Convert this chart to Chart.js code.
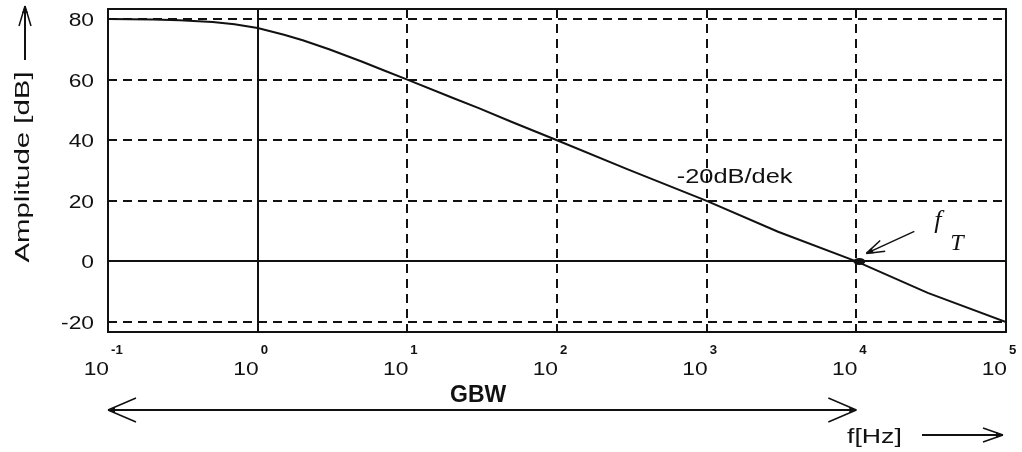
<!DOCTYPE html>
<html>
<head>
<meta charset="utf-8">
<script src="https://cdn.jsdelivr.net/npm/chart.js@4.4.1/dist/chart.umd.min.js"></script>
<style>
  html, body { margin: 0; padding: 0; background: #fff; }
  #wrap { width: 1022px; height: 452px; }
</style>
</head>
<body>
<div id="wrap"><canvas id="bode"></canvas></div>
<script>
// frequency [Hz] and amplitude [dB]
const freqs = [0.1, 0.2, 0.3, 0.5, 0.7, 1, 1.5, 2, 3, 5, 7, 10, 20, 30, 50, 100, 300, 1000, 3000, 10000, 30000, 100000];
const amps  = [80, 79.8, 79.6, 79.0, 78.3, 77, 74.8, 73, 70, 65.9, 63, 60, 54, 50.6, 46, 40, 30.3, 20, 9.8, 0, -10.4, -20];

// axis ticks
const xTicks = [0.1, 1, 10, 100, 1000, 10000, 100000];
const xExponents = ['-1', '0', '1', '2', '3', '4', '5'];
const yTicks = [-20, 0, 20, 40, 60, 80];

// transit frequency and GBW span
const fT = 10000;
const gbwSpan = [0.1, 10000];

const SANS = "'Liberation Sans', Arial, sans-serif";
const INK = '#111';

// the original lettering is a wide bitmap font, so stretch it a bit
function wideText(ctx, txt, x, y, font, align, sx) {
    ctx.save();
    ctx.translate(x, y);
    ctx.scale(sx, 1);
    ctx.font = font;
    ctx.textAlign = align;
    ctx.textBaseline = 'alphabetic';
    ctx.fillStyle = INK;
    ctx.fillText(txt, 0, 0);
    ctx.restore();
}

function arrowHead(ctx, x1, y1, x2, y2, len, spread) {
    const a = Math.atan2(y2 - y1, x2 - x1);
    ctx.save();
    ctx.lineWidth = 1.5;
    ctx.beginPath();
    for (const s of [-1, 1]) {
        ctx.moveTo(x2, y2);
        ctx.lineTo(x2 - len * Math.cos(a) + s * spread * Math.sin(a),
                   y2 - len * Math.sin(a) - s * spread * Math.cos(a));
    }
    ctx.stroke();
    // small filled tip
    ctx.beginPath();
    ctx.moveTo(x2, y2);
    ctx.lineTo(x2 - 7 * Math.cos(a) + 3 * Math.sin(a), y2 - 7 * Math.sin(a) - 3 * Math.cos(a));
    ctx.lineTo(x2 - 7 * Math.cos(a) - 3 * Math.sin(a), y2 - 7 * Math.sin(a) + 3 * Math.cos(a));
    ctx.closePath();
    ctx.fill();
    ctx.restore();
}

function arrow(ctx, x1, y1, x2, y2, len, spread) {
    ctx.beginPath();
    ctx.moveTo(x1, y1);
    ctx.lineTo(x2, y2);
    ctx.stroke();
    arrowHead(ctx, x1, y1, x2, y2, len, spread);
}

const bodeDecor = {
    id: 'bodeDecor',
    beforeDatasetsDraw(chart) {
        const { ctx, chartArea: a, scales: { x, y } } = chart;
        ctx.save();
        ctx.strokeStyle = INK;
        ctx.lineWidth = 2;
        // solid 0 dB line and solid line at 10^0
        ctx.beginPath();
        ctx.moveTo(a.left, Math.round(y.getPixelForValue(0)));
        ctx.lineTo(a.right, Math.round(y.getPixelForValue(0)));
        ctx.moveTo(Math.round(x.getPixelForValue(1)), a.top);
        ctx.lineTo(Math.round(x.getPixelForValue(1)), a.bottom);
        ctx.stroke();
        ctx.restore();
    },
    afterDatasetsDraw(chart) {
        const { ctx, chartArea: a, scales: { x, y } } = chart;
        ctx.save();
        ctx.strokeStyle = INK;
        ctx.fillStyle = INK;
        ctx.lineWidth = 2;

        // frame
        ctx.strokeRect(a.left, a.top, a.right - a.left, a.bottom - a.top);

        // y tick labels
        yTicks.forEach(v => {
            wideText(ctx, String(v), a.left - 14, y.getPixelForValue(v) + 7, '19px ' + SANS, 'right', 1.2);
        });

        // x tick labels: 10 with exponent
        xTicks.forEach((v, i) => {
            const px = x.getPixelForValue(v);
            wideText(ctx, '10', px + 1, a.bottom + 43, '19px ' + SANS, 'right', 1.2);
            wideText(ctx, xExponents[i], px + 3, a.bottom + 22, 'bold 12px ' + SANS, 'left', 1.1);
        });

        // y axis title with arrow
        ctx.save();
        ctx.translate(29, 167);
        ctx.rotate(-Math.PI / 2);
        wideText(ctx, 'Amplitude [dB]', 0, 0, '21px ' + SANS, 'center', 1.4);
        ctx.restore();
        arrow(ctx, 25, 60, 25, 6, 20, 6);

        // slope label
        wideText(ctx, '-20dB/dek', x.getPixelForValue(1000) - 30, y.getPixelForValue(20) - 18, '20px ' + SANS, 'left', 1.27);

        // transit frequency marker
        const tx = x.getPixelForValue(fT), ty = y.getPixelForValue(0);
        ctx.beginPath();
        ctx.ellipse(tx + 3, ty, 6, 3.5, 0, 0, Math.PI * 2);
        ctx.fill();
        ctx.lineWidth = 1.5;
        arrow(ctx, tx + 58, ty - 30, tx + 10, ty - 8, 18, 6);
        ctx.font = "italic 26px 'Liberation Serif', 'Times New Roman', serif";
        ctx.textAlign = 'left';
        ctx.fillText('f', tx + 78, ty - 33);
        ctx.font = "italic 24px 'Liberation Serif', 'Times New Roman', serif";
        ctx.fillText('T', tx + 94, ty - 11);

        // GBW span
        const g1 = x.getPixelForValue(gbwSpan[0]), g2 = x.getPixelForValue(gbwSpan[1]);
        const gy = a.bottom + 78;
        ctx.lineWidth = 2;
        ctx.beginPath();
        ctx.moveTo(g1, gy);
        ctx.lineTo(g2, gy);
        ctx.stroke();
        arrowHead(ctx, g2, gy, g1, gy, 28, 12);
        arrowHead(ctx, g1, gy, g2, gy, 28, 12);
        ctx.save();
        ctx.font = 'bold 23px ' + SANS;
        ctx.textAlign = 'center';
        ctx.fillText('GBW', (g1 + g2) / 2 - 4, gy - 8);
        ctx.restore();

        // frequency axis title with arrow
        wideText(ctx, 'f[Hz]', 847, a.bottom + 111, '21px ' + SANS, 'left', 1.27);
        ctx.lineWidth = 2;
        arrow(ctx, 922, a.bottom + 103, 1003, a.bottom + 103, 20, 7);

        ctx.restore();
    }
};

new Chart(document.getElementById('bode'), {
    type: 'line',
    data: {
        datasets: [{
            data: freqs.map((f, i) => ({ x: f, y: amps[i] })),
            borderColor: INK,
            borderWidth: 2,
            pointRadius: 0,
            tension: 0,
            fill: false
        }]
    },
    options: {
        responsive: true,
        maintainAspectRatio: false,
        animation: false,
        layout: { padding: { left: 108, top: 9, right: 16, bottom: 120 } },
        plugins: { legend: { display: false }, tooltip: { enabled: false } },
        scales: {
            x: {
                type: 'logarithmic',
                min: 0.1,
                max: 100000,
                afterBuildTicks: s => { s.ticks = xTicks.map(v => ({ value: v })); },
                ticks: { display: false },
                grid: { color: INK, lineWidth: 2, drawTicks: false },
                border: { display: false, dash: [9, 6] }
            },
            y: {
                min: -23.3,
                max: 83.3,
                afterBuildTicks: s => { s.ticks = yTicks.map(v => ({ value: v })); },
                ticks: { display: false },
                grid: { color: INK, lineWidth: 2, drawTicks: false },
                border: { display: false, dash: [9, 6] }
            }
        }
    },
    plugins: [bodeDecor]
});
</script>
</body>
</html>
